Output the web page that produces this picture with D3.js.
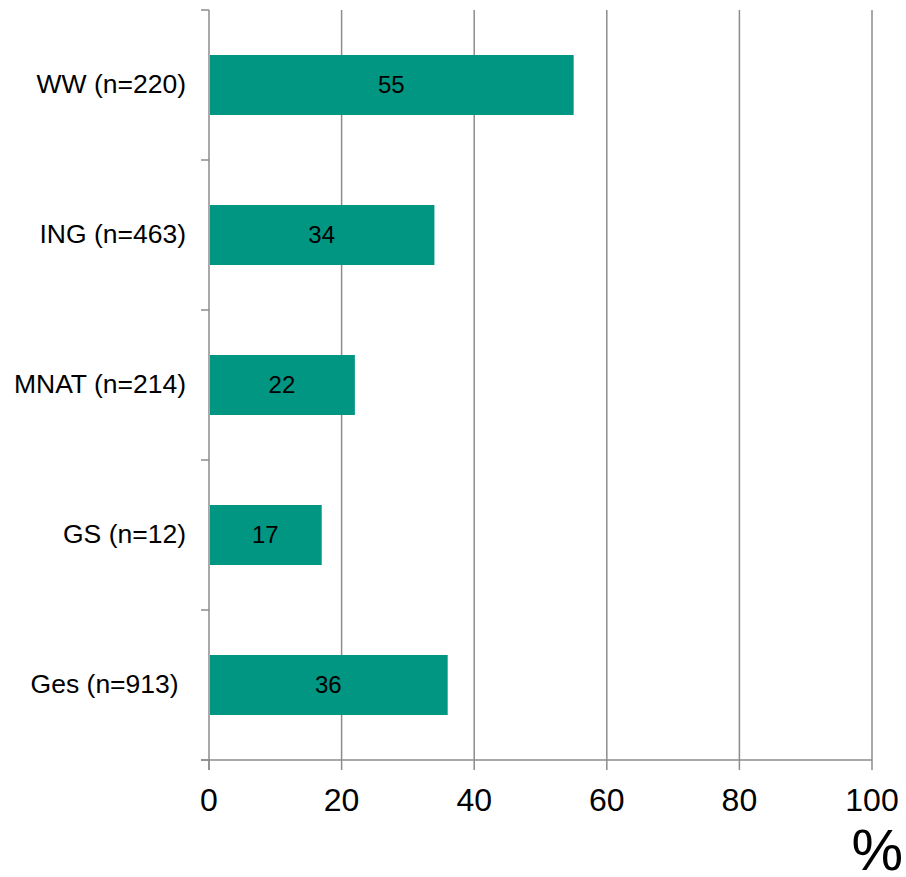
<!DOCTYPE html>
<html><head><meta charset="utf-8">
<script src="https://cdn.jsdelivr.net/npm/d3@7"></script>
<style>body{margin:0;background:#fff;} text{font-family:"Liberation Sans",Arial,sans-serif;}</style>
</head><body>
<svg id="c" width="906" height="877"></svg>
<script>
const categories = ["WW (n=220)", "ING (n=463)", "MNAT (n=214)", "GS (n=12)", "Ges (n=913) "];
const values = [55, 34, 22, 17, 36];
const xTicks = [0, 20, 40, 60, 80, 100];
const axisTitle = "%";

(function () {
const svg = d3.select("#c");
const pL = 209, pR = 872, pT = 10, pB = 760;
const x = d3.scaleLinear().domain([0, 100]).range([pL, pR]);
const y = d3.scaleBand().domain(categories).range([pT, pB]).paddingInner(0.6).paddingOuter(0.3);
const grid = "#8c8c8c";

svg.append("g").selectAll("line").data(xTicks.slice(1)).join("line")
  .attr("x1", d => x(d)).attr("x2", d => x(d)).attr("y1", pT).attr("y2", pB)
  .attr("stroke", grid).attr("stroke-width", 1.5);

svg.append("g").selectAll("rect").data(values).join("rect")
  .attr("x", x(0) + 1).attr("y", (d, i) => y(categories[i]))
  .attr("width", d => x(d) - x(0) - 1).attr("height", y.bandwidth())
  .attr("fill", "#009682");

svg.append("g").selectAll("text").data(values).join("text")
  .attr("x", d => (x(0) + x(d)) / 2).attr("y", (d, i) => y(categories[i]) + y.bandwidth() / 2)
  .attr("dy", "0.33em").attr("text-anchor", "middle").attr("font-size", 24).attr("fill", "#000")
  .text(d => d);

const ya = svg.append("g");
ya.append("line").attr("x1", pL).attr("x2", pL).attr("y1", pT).attr("y2", pB + 10)
  .attr("stroke", grid).attr("stroke-width", 1.5);
const yTickPos = d3.range(categories.length + 1).map(i => pT + i * y.step());
ya.selectAll("line.t").data(yTickPos).join("line").attr("class", "t")
  .attr("x1", pL - 8).attr("x2", pL).attr("y1", d => d).attr("y2", d => d)
  .attr("stroke", grid).attr("stroke-width", 1.5);
ya.selectAll("text").data(categories).join("text")
  .attr("x", 186).attr("y", d => y(d) + y.bandwidth() / 2).attr("dy", "0.32em")
  .attr("text-anchor", "end").attr("font-size", 26.5).style("white-space", "pre").attr("fill", "#000")
  .text(d => d);

const xa = svg.append("g");
xa.append("line").attr("x1", pL - 8).attr("x2", pR).attr("y1", pB).attr("y2", pB)
  .attr("stroke", grid).attr("stroke-width", 1.5);
xa.selectAll("line.t").data(xTicks).join("line").attr("class", "t")
  .attr("x1", d => x(d)).attr("x2", d => x(d)).attr("y1", pB).attr("y2", pB + 10)
  .attr("stroke", grid).attr("stroke-width", 1.5);
xa.selectAll("text").data(xTicks).join("text")
  .attr("x", d => x(d)).attr("y", 811).attr("text-anchor", "middle").attr("font-size", 32).attr("fill", "#000")
  .text(d => d);

svg.append("text").attr("x", 903).attr("y", 870).attr("text-anchor", "end")
  .attr("font-size", 58).attr("fill", "#000").text(axisTitle);
})();
</script>
</body></html>
